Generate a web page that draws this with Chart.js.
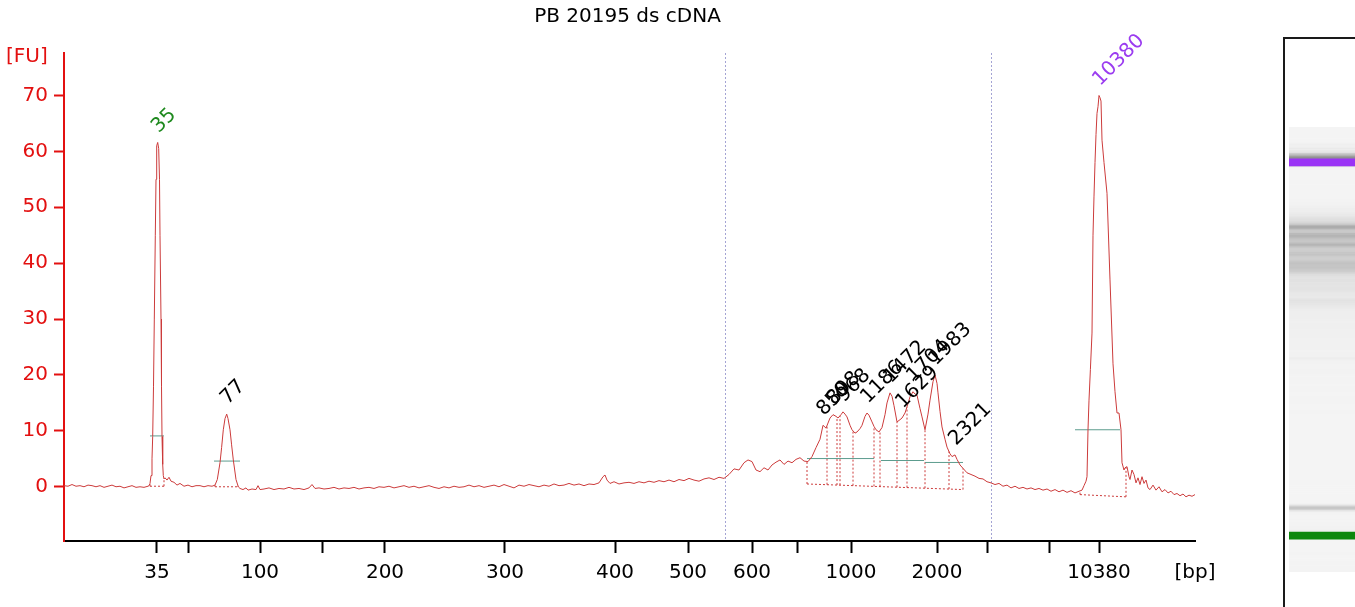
<!DOCTYPE html>
<html>
<head>
<meta charset="utf-8">
<script src="https://cdn.jsdelivr.net/npm/chart.js@4.4.1/dist/chart.umd.min.js"></script>
<style>
  html, body { margin: 0; padding: 0; background: #fff; overflow: hidden; }
  #wrap { position: relative; width: 1355px; height: 607px; }
  #main { position: absolute; left: 0; top: 0; }
  #frame { position: absolute; left: 1283px; top: 37px; width: 90px; height: 600px;
           border-left: 2px solid #1a1a1a; border-top: 2px solid #1a1a1a; }
  #lane { position: absolute; left: 1289px; top: 127px; width: 66px; height: 445px;
          background: linear-gradient(#fbfbfb, #f1f1f1 18px, #f4f4f4 40px, #f4f4f4 calc(100% - 8px), #f9f9f9); }
  #gel { position: absolute; left: 0; top: 0; }
</style>
</head>
<body>
<div id="wrap">
  <canvas id="main" width="1280" height="607"></canvas>
  <div id="frame"></div>
  <div id="lane"><canvas id="gel" width="66" height="445"></canvas></div>
</div>
<script>
// sample name
const title = 'PB 20195 ds cDNA';

// x axis is migration time (s); the ticks carry the ladder sizes in bp
const xTickTimes = [21.65, 23.2, 26.8, 29.9, 33.05, 39.05, 44.55, 48.2, 51.4, 53.65, 56.35, 60.65, 63.15, 66.25, 68.75];
const xTickLabels = ['35', '', '100', '', '200', '300', '400', '500', '600', '', '1000', '2000', '', '', '10380'];
const yTicks = [0, 10, 20, 30, 40, 50, 60, 70];

// region of interest limits (dotted verticals)
const windowTimes = [50.05, 63.35];

// called peaks
const peakSizes = [35, 77, 850, 898, 968, 1186, 1472, 1629, 1704, 1983, 2321, 10380];
const peakTimes = [21.685, 25.135, 54.95, 55.45, 55.95, 57.15, 58.3, 58.9, 59.45, 60.55, 61.55, 68.75];
const peakFU    = [61.6, 13.0, 11.0, 12.9, 13.4, 13.2, 16.8, 12.3, 17.0, 20.0, 5.7, 70.0];
const markerSizes = [35, 10380];

// integration regions: bounds and baseline level at start/end
const regionBounds = [
  [21.3, 22.0],
  [24.55, 25.7],
  [54.15, 55.15, 55.65, 55.8, 56.45, 57.5, 57.8, 58.65, 59.15, 60.05, 61.25, 61.95],
  [67.8, 70.1]
];
const regionBase = [[0.1, 0.1], [0.0, 0.0], [0.5, -0.5], [-1.4, -1.8]];

// half height lines
const halfStart = [21.3, 24.5, 54.15, 57.85, 60.05, 67.55];
const halfEnd   = [22.0, 25.8, 57.5, 60.0, 61.95, 69.8];
const halfFU    = [9.1, 4.6, 5.05, 4.7, 4.35, 10.2];

// electropherogram trace [time s, FU]
const trace = [
  [17.0,0.2],[17.2,0.1],[17.4,0.4],[17.6,0.1],[17.8,0.2],[18.0,0.0],[18.2,0.3],[18.4,0.2],[18.6,0.0],[18.8,0.2],
  [19.0,-0.1],[19.2,0.1],[19.4,0.3],[19.6,0.0],[19.8,0.1],[20.0,-0.2],[20.2,0.0],[20.4,0.2],[20.6,-0.1],[20.8,0.0],
  [21.0,-0.1],[21.2,0.1],[21.25,0.2],[21.3,0.6],[21.35,2],[21.4,5],[21.435,9],[21.475,18],[21.515,30],[21.565,45],
  [21.6,55],[21.635,61],[21.685,61.6],[21.735,60.5],[21.775,55],[21.8,45],[21.85,30],[21.875,18],[21.9,9],[21.935,4],
  [21.965,2],[22.0,1.4],[22.05,1.6],[22.15,1.2],[22.25,1.7],[22.35,1.0],[22.5,0.8],[22.65,0.3],[22.8,0.6],[23.0,0.1],
  [23.2,0.3],[23.4,0.0],[23.6,0.2],[23.8,0.2],[24.0,0.0],[24.2,0.2],[24.4,0.1],[24.55,0.3],[24.665,1.3],[24.8,4.3],
  [24.88,7.0],[24.965,10.2],[25.05,12.2],[25.135,13.0],[25.2,12.2],[25.3,10.2],[25.38,7.5],[25.465,4.8],[25.6,1.3],[25.715,0.0],
  [25.8,-0.3],[25.95,-0.5],[26.1,-0.2],[26.2,-0.6],[26.4,-0.4],[26.6,-0.5],[26.7,0.2],[26.8,-0.5],
  [27.0,-0.4],[27.25,-0.2],[27.5,-0.5],[27.75,-0.3],[28.0,-0.4],[28.25,-0.1],[28.5,-0.4],[28.75,-0.3],[29.0,-0.5],[29.25,-0.2],
  [29.4,0.4],[29.55,-0.3],[29.75,-0.2],[30.0,-0.4],[30.25,-0.3],[30.5,-0.1],[30.75,-0.4],[31.0,-0.2],[31.25,-0.3],[31.5,-0.1],
  [31.75,-0.4],[32.0,-0.2],[32.25,-0.1],[32.5,-0.3],[32.75,0.0],[33.0,-0.1],[33.25,0.1],[33.5,-0.2],[33.75,0.0],[34.0,0.2],
  [34.25,-0.1],[34.5,0.1],[34.75,-0.2],[35.0,0.0],[35.25,0.2],[35.5,-0.1],[35.75,-0.3],[36.0,0.0],[36.25,-0.2],[36.5,0.1],
  [36.75,-0.1],[37.0,0.0],[37.25,0.3],[37.5,0.0],[37.75,0.2],[38.0,-0.1],[38.25,0.1],[38.5,0.3],[38.75,0.0],[39.0,0.4],
  [39.25,0.1],[39.5,-0.2],[39.75,0.3],[40.0,0.1],[40.25,0.4],[40.5,0.2],[40.75,0.0],[41.0,0.3],[41.25,0.1],[41.5,0.5],
  [41.75,0.2],[42.0,0.3],[42.25,0.6],[42.5,0.3],[42.75,0.5],[43.0,0.2],[43.25,0.5],[43.5,0.4],[43.75,0.7],[43.95,1.8],
  [44.05,2.1],[44.15,1.2],[44.3,0.6],[44.5,0.9],[44.75,0.5],[45.0,0.7],[45.25,0.8],[45.5,0.6],[45.75,0.9],[46.0,0.7],
  [46.25,1.0],[46.5,0.8],[46.75,1.1],[47.0,0.9],[47.25,1.2],[47.5,0.9],[47.75,1.3],[48.0,1.1],[48.25,1.5],[48.5,1.2],
  [48.75,1.0],[49.0,1.4],[49.25,1.6],[49.5,1.3],[49.75,1.7],[50.0,1.5],[50.25,2.2],[50.5,3.2],[50.75,3.0],[51.0,4.3],
  [51.2,4.8],[51.4,4.5],[51.6,3.0],[51.8,2.7],[52.0,3.4],[52.2,3.0],[52.4,3.9],[52.6,4.4],[52.8,4.8],[53.0,4.0],
  [53.2,4.6],[53.4,4.3],[53.6,4.9],[53.8,5.2],[54.0,4.6],[54.2,4.5],[54.4,5.4],[54.6,7.0],[54.8,8.5],[54.95,11.0],
  [55.1,10.5],[55.3,12.3],[55.45,12.9],[55.6,12.6],[55.7,12.3],[55.85,12.9],[55.95,13.4],[56.05,13.0],[56.15,12.5],[56.3,11.0],
  [56.4,10.2],[56.55,9.6],[56.65,9.8],[56.8,10.4],[56.9,11.0],[57.05,12.6],[57.15,13.2],[57.25,12.8],[57.4,11.6],[57.5,10.8],
  [57.6,10.2],[57.75,9.8],[57.9,10.6],[58.05,12.9],[58.15,15.0],[58.3,16.8],[58.4,16.2],[58.5,14.5],[58.65,11.6],[58.8,12.0],
  [58.9,12.3],[59.05,13.2],[59.15,14.3],[59.3,16.1],[59.45,17.0],[59.55,16.6],[59.65,16.4],[59.8,14.0],[59.9,12.5],[60.05,10.2],
  [60.2,13.0],[60.3,15.5],[60.45,18.8],[60.55,20.0],[60.65,18.5],[60.7,16.8],[60.8,13.5],[60.9,10.7],[61.05,8.5],[61.15,7.1],
  [61.3,5.9],[61.4,5.4],[61.55,5.7],[61.65,4.9],[61.8,3.9],[61.95,3.3],[62.15,2.5],[62.35,2.2],[62.55,1.9],[62.75,1.5],
  [62.95,1.4],[63.15,0.9],[63.35,0.7],[63.55,0.4],[63.75,0.6],[63.95,0.1],[64.15,0.3],[64.35,-0.2],[64.55,0.1],[64.75,-0.3],
  [64.95,-0.1],[65.15,-0.4],[65.35,-0.2],[65.55,-0.5],[65.75,-0.3],[65.95,-0.6],[66.15,-0.4],[66.35,-0.8],[66.55,-0.5],[66.75,-0.9],
  [66.95,-0.6],[67.15,-1.0],[67.35,-0.7],[67.55,-1.1],[67.75,-0.8],[67.9,-0.6],[68.0,0.2],[68.1,1.0],[68.15,1.8],[68.2,10.2],
  [68.25,15.5],[68.32,21],[68.4,27.5],[68.45,45],[68.5,52],[68.55,58],[68.6,63],[68.65,66.8],[68.7,68],[68.75,70],
  [68.8,69.6],[68.85,69],[68.9,62],[69.0,58],[69.15,52.5],[69.3,37],[69.45,22],[69.55,17],[69.65,13.2],[69.75,13.2],
  [69.85,10.2],[69.9,4.3],[70.0,3.0],[70.05,3.4],[70.15,3.6],[70.25,1.8],[70.3,1.3],[70.4,3.0],[70.5,2.2],[70.6,0.7],
  [70.7,1.6],[70.8,0.4],[70.9,1.8],[71.0,0.6],[71.1,1.2],[71.2,-0.2],[71.3,-0.5],[71.45,0.3],[71.6,-0.6],[71.75,0.0],
  [71.9,-0.9],[72.05,-0.5],[72.2,-1.1],[72.35,-0.8],[72.5,-1.4],[72.65,-1.2],[72.8,-1.6],[72.95,-1.3],[73.1,-1.8],[73.25,-1.5],
  [73.4,-1.7],[73.55,-1.4]
];

const red = '#e31010';
const traceColor = '#cc3b3b';
Chart.defaults.font.family = '"DejaVu Sans", sans-serif';

// trace value at a given time, used to end the dotted region lines on the curve
function traceAt(t) {
  for (let i = 1; i < trace.length; i++) {
    if (trace[i][0] >= t) {
      const [t0, v0] = trace[i - 1];
      const [t1, v1] = trace[i];
      return v0 + (v1 - v0) * (t - t0) / (t1 - t0);
    }
  }
  return trace[trace.length - 1][1];
}

// dotted baselines + verticals, one dataset with gaps
const regionPts = [];
regionBounds.forEach((b, k) => {
  const t0 = b[0], t1 = b[b.length - 1];
  const [b0, b1] = regionBase[k];
  const baseAt = t => b0 + (b1 - b0) * (t - t0) / (t1 - t0);
  regionPts.push({ x: t0, y: b0 }, { x: t1, y: b1 }, { x: t1, y: null });
  b.forEach(t => {
    regionPts.push({ x: t, y: baseAt(t) }, { x: t, y: traceAt(t) }, { x: t, y: null });
  });
});

const halfPts = [];
halfStart.forEach((s, i) => {
  halfPts.push({ x: s, y: halfFU[i] }, { x: halfEnd[i], y: halfFU[i] }, { x: halfEnd[i], y: null });
});

const overlay = {
  id: 'overlay',
  beforeDatasetsDraw(chart) {
    const { ctx, chartArea: a, scales: { x } } = chart;
    ctx.save();
    ctx.strokeStyle = '#a4a4d4';
    ctx.lineWidth = 1;
    ctx.setLineDash([2, 2]);
    windowTimes.forEach(t => {
      const px = Math.round(x.getPixelForValue(t)) + 0.5;
      ctx.beginPath();
      ctx.moveTo(px, a.top);
      ctx.lineTo(px, a.bottom);
      ctx.stroke();
    });
    ctx.restore();
  },
  afterDraw(chart) {
    const { ctx, chartArea: a, scales: { x, y } } = chart;
    ctx.save();
    ctx.font = '20px "DejaVu Sans"';
    ctx.textBaseline = 'middle';
    ctx.textAlign = 'center';
    ctx.fillStyle = '#000';
    ctx.fillText(title, (a.left + a.right) / 2 - 2, 17);
    ctx.fillText('[bp]', a.right, 573);
    ctx.fillStyle = red;
    ctx.textAlign = 'left';
    ctx.fillText('[FU]', 6, 57);

    // peak size labels, turned 45 degrees
    ctx.font = '20px "DejaVu Sans"';
    ctx.textBaseline = 'alphabetic';
    peakSizes.forEach((s, i) => {
      const px = x.getPixelForValue(peakTimes[i]) + 1;
      const py = y.getPixelForValue(peakFU[i]) - 9;
      let c = '#000';
      if (s === markerSizes[0]) c = '#1f8a1f';
      if (s === markerSizes[1]) c = '#9b3cf0';
      ctx.save();
      ctx.translate(px, py);
      ctx.rotate(-Math.PI / 4);
      ctx.fillStyle = c;
      ctx.fillText(String(s), 0, 0);
      ctx.restore();
    });
    ctx.restore();
  }
};

new Chart(document.getElementById('main'), {
  type: 'line',
  data: {
    datasets: [
      {
        data: trace.map(p => ({ x: p[0], y: p[1] })),
        borderColor: traceColor,
        borderWidth: 1,
        pointRadius: 0,
        tension: 0,
        order: 0
      },
      {
        data: regionPts,
        borderColor: traceColor,
        borderWidth: 1,
        borderDash: [2, 2],
        pointRadius: 0,
        spanGaps: false,
        order: 2
      },
      {
        data: halfPts,
        borderColor: '#5c9c8e',
        borderWidth: 1,
        pointRadius: 0,
        spanGaps: false,
        order: 1
      }
    ]
  },
  options: {
    responsive: false,
    animation: false,
    layout: { padding: { left: 0, top: 53, right: 85, bottom: 0 } },
    plugins: { legend: { display: false }, tooltip: { enabled: false }, title: { display: false } },
    scales: {
      x: {
        type: 'linear',
        min: 17,
        max: 73.55,
        afterBuildTicks: s => { s.ticks = xTickTimes.map(v => ({ value: v })); },
        afterFit: s => { s.height = 66; },
        border: { color: '#000', width: 2 },
        grid: { drawOnChartArea: false, tickLength: 12, tickColor: '#000', tickWidth: 2 },
        ticks: {
          autoSkip: false,
          maxRotation: 0,
          color: '#000',
          font: { size: 20 },
          padding: 8,
          callback: (v, i) => xTickLabels[i]
        }
      },
      y: {
        type: 'linear',
        min: -9.7,
        max: 77.6,
        afterBuildTicks: s => { s.ticks = yTicks.map(v => ({ value: v })); },
        afterFit: s => { s.width = 64; },
        border: { color: red, width: 2 },
        grid: { drawOnChartArea: false, tickLength: 10, tickColor: red, tickWidth: 2 },
        ticks: { color: red, font: { size: 20 }, padding: 6 }
      }
    }
  },
  plugins: [overlay]
});

// virtual gel lane: same trace, intensity as grey, markers in colour on top
const gelSets = [];
markerSizes.forEach((s, k) => {
  const i = peakSizes.indexOf(s);
  gelSets.push({
    data: [[peakTimes[i] - 0.45, peakTimes[i] + 0.45]],
    backgroundColor: k === 0 ? '#0d870d' : '#9a33f5'
  });
});
for (let i = 0; i < trace.length - 1; i++) {
  const fu = (trace[i][1] + trace[i + 1][1]) / 2;
  const g = Math.round(Math.max(145, Math.min(244, 244 - fu * 3.8)));
  gelSets.push({ data: [[trace[i][0], trace[i + 1][0]]], backgroundColor: 'rgb(' + g + ',' + g + ',' + g + ')' });
}

new Chart(document.getElementById('gel'), {
  type: 'bar',
  data: { labels: ['lane'], datasets: gelSets },
  options: {
    responsive: false,
    animation: false,
    layout: { padding: 0 },
    datasets: { bar: { grouped: false, barPercentage: 1, categoryPercentage: 1, borderWidth: 0 } },
    plugins: { legend: { display: false }, tooltip: { enabled: false } },
    scales: {
      x: { display: false },
      y: { display: false, min: 17.1, max: 73.2 }
    }
  }
});
</script>
</body>
</html>
